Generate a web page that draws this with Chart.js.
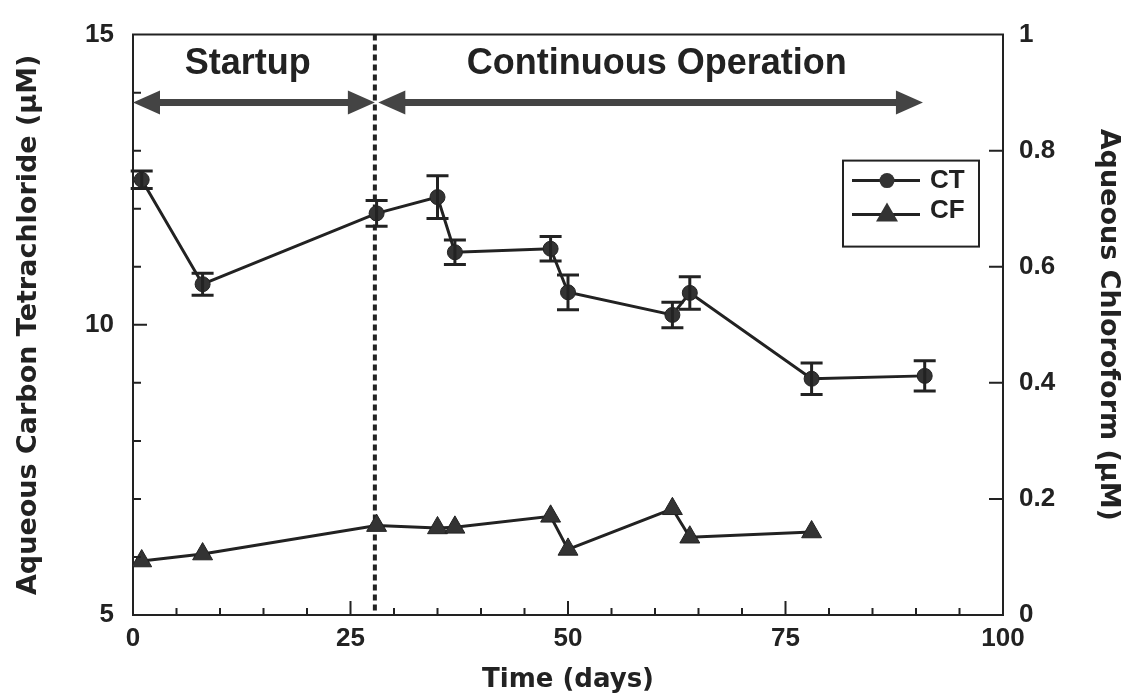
<!DOCTYPE html>
<html>
<head>
<meta charset="utf-8">
<script src="https://cdn.jsdelivr.net/npm/chart.js@4.4.1/dist/chart.umd.min.js"></script>
<style>
  html, body { margin: 0; padding: 0; background: #fff; }
  #chart { display: block; }
</style>
</head>
<body>
<canvas id="chart" width="1134" height="700"></canvas>
<script>
// carbon tetrachloride (left axis, uM) with +/- error
const ctDays = [1, 8, 28, 35, 37, 48, 50, 62, 64, 78, 91];
const ctValues = [12.5, 10.7, 11.92, 12.2, 11.25, 11.31, 10.56, 10.17, 10.55, 9.07, 9.12];
const ctErrors = [0.15, 0.19, 0.22, 0.37, 0.21, 0.21, 0.3, 0.22, 0.28, 0.27, 0.26];

// chloroform (right axis, uM)
const cfDays = [1, 8, 28, 35, 37, 48, 50, 62, 64, 78];
const cfValues = [0.093, 0.105, 0.154, 0.150, 0.151, 0.17, 0.113, 0.183, 0.134, 0.143];

// phases of the run
const phaseNames = ['Startup', 'Continuous Operation'];
const phaseLabelDays = [13.2, 60.2];
const phaseArrowSpans = [[0, 27.8], [28.2, 90.8]];
const phaseBreakDay = 27.8;
const phaseLabelLevel = 14.5;
const phaseArrowLevel = 13.83;

const ink = '#222';
const sans = "'Liberation Sans', Arial, sans-serif";
const wide = "'DejaVu Sans', Verdana, sans-serif";

function arrowHead(ctx, tipX, y, dir) {
  ctx.beginPath();
  ctx.moveTo(tipX, y);
  ctx.lineTo(tipX - dir * 27, y - 12);
  ctx.lineTo(tipX - dir * 27, y + 12);
  ctx.closePath();
  ctx.fill();
}

const errorBars = {
  id: 'errorBars',
  afterDatasetsDraw(chart) {
    const {ctx, scales: {x, y}} = chart;
    ctx.save();
    ctx.strokeStyle = ink;
    ctx.lineWidth = 3;
    ctDays.forEach((d, i) => {
      const px = x.getPixelForValue(d);
      const top = y.getPixelForValue(ctValues[i] + ctErrors[i]);
      const bot = y.getPixelForValue(ctValues[i] - ctErrors[i]);
      ctx.beginPath();
      ctx.moveTo(px, top); ctx.lineTo(px, bot);
      ctx.moveTo(px - 11, top); ctx.lineTo(px + 11, top);
      ctx.moveTo(px - 11, bot); ctx.lineTo(px + 11, bot);
      ctx.stroke();
    });
    ctx.restore();
  }
};

const annotations = {
  id: 'annotations',
  beforeDatasetsDraw(chart) {
    const {ctx, chartArea: a, scales: {x, y}} = chart;
    ctx.save();
    // phase boundary
    ctx.strokeStyle = ink;
    ctx.lineWidth = 4;
    ctx.setLineDash([6, 4]);
    const bx = x.getPixelForValue(phaseBreakDay);
    ctx.beginPath();
    ctx.moveTo(bx, a.top);
    ctx.lineTo(bx, a.bottom);
    ctx.stroke();
    ctx.setLineDash([]);

    // double arrows
    ctx.fillStyle = '#444';
    const ay = y.getPixelForValue(phaseArrowLevel);
    phaseArrowSpans.forEach(([d0, d1]) => {
      const x0 = x.getPixelForValue(d0), x1 = x.getPixelForValue(d1);
      ctx.fillRect(x0 + 20, ay - 3.5, x1 - x0 - 40, 7);
      arrowHead(ctx, x0, ay, -1);
      arrowHead(ctx, x1, ay, 1);
    });

    // phase names
    ctx.fillStyle = ink;
    ctx.font = 'bold 36px ' + sans;
    ctx.textAlign = 'center';
    ctx.textBaseline = 'middle';
    phaseNames.forEach((name, i) => {
      ctx.fillText(name, x.getPixelForValue(phaseLabelDays[i]), y.getPixelForValue(phaseLabelLevel));
    });
    ctx.restore();
  }
};

const frameAndTicks = {
  id: 'frameAndTicks',
  afterDraw(chart) {
    const {ctx, chartArea: a, scales: {x, y, y2}} = chart;
    ctx.save();
    ctx.strokeStyle = ink;
    ctx.lineWidth = 2;
    ctx.beginPath();
    ctx.moveTo(a.left - 1, a.top);
    ctx.lineTo(a.right + 1, a.top);
    for (let v = y.min; v <= y.max; v++) {
      const p = y.getPixelForValue(v);
      ctx.moveTo(a.left, p);
      ctx.lineTo(a.left + (v % 5 === 0 ? 14 : 8), p);
    }
    for (let d = x.min; d <= x.max; d += 5) {
      const p = x.getPixelForValue(d);
      ctx.moveTo(p, a.bottom);
      ctx.lineTo(p, a.bottom - (d % 25 === 0 ? 14 : 7));
    }
    y2.ticks.forEach(t => {
      const p = y2.getPixelForValue(t.value);
      ctx.moveTo(a.right, p);
      ctx.lineTo(a.right - 14, p);
    });
    ctx.stroke();

    // legend box
    const lx = a.right - 160, ly = a.top + 126, lw = 136, lh = 86;
    ctx.fillStyle = '#fff';
    ctx.fillRect(lx, ly, lw, lh);
    ctx.strokeRect(lx, ly, lw, lh);
    const rows = [{label: 'CT', dy: 20}, {label: 'CF', dy: 54}];
    ctx.lineWidth = 3;
    ctx.fillStyle = '#333';
    rows.forEach((r, i) => {
      const ry = ly + r.dy;
      ctx.beginPath();
      ctx.moveTo(lx + 9, ry);
      ctx.lineTo(lx + 77, ry);
      ctx.stroke();
      const mx = lx + 44;
      ctx.beginPath();
      if (i === 0) {
        ctx.arc(mx, ry, 7.5, 0, Math.PI * 2);
      } else {
        ctx.moveTo(mx, ry - 12);
        ctx.lineTo(mx + 11, ry + 7);
        ctx.lineTo(mx - 11, ry + 7);
        ctx.closePath();
      }
      ctx.fill();
    });
    ctx.fillStyle = ink;
    ctx.font = 'bold 26px ' + sans;
    ctx.textAlign = 'left';
    ctx.textBaseline = 'middle';
    ctx.fillText('CT', lx + 87, ly + 20);
    ctx.fillText('CF', lx + 87, ly + 50);
    ctx.restore();
  }
};

const tickFont = {family: sans, size: 26, weight: 'bold'};
const titleFont = {family: wide, size: 27, weight: 'bold'};

new Chart(document.getElementById('chart'), {
  type: 'line',
  data: {
    datasets: [
      {
        label: 'CT',
        data: ctDays.map((d, i) => ({x: d, y: ctValues[i]})),
        yAxisID: 'y',
        borderColor: ink,
        backgroundColor: '#333',
        borderWidth: 3,
        pointStyle: 'circle',
        pointRadius: 7.5,
        pointBorderWidth: 1,
        tension: 0
      },
      {
        label: 'CF',
        data: cfDays.map((d, i) => ({x: d, y: cfValues[i]})),
        yAxisID: 'y2',
        borderColor: ink,
        backgroundColor: '#333',
        borderWidth: 3,
        pointStyle: 'triangle',
        pointRadius: 11.5,
        pointBorderWidth: 1,
        tension: 0
      }
    ]
  },
  options: {
    responsive: false,
    devicePixelRatio: 1,
    animation: false,
    layout: {padding: {top: 32, left: 0, right: 0, bottom: 0}},
    plugins: {legend: {display: false}, tooltip: {enabled: false}},
    scales: {
      x: {
        type: 'linear',
        min: 0,
        max: 100,
        afterFit: s => { s.height = 85; },
        grid: {display: false, drawTicks: false},
        border: {display: true, color: ink, width: 2},
        ticks: {stepSize: 25, color: ink, font: tickFont, padding: 8},
        title: {display: true, text: 'Time (days)', color: ink, font: {family: wide, size: 26, weight: 'bold'}, padding: {top: 0, bottom: 4}}
      },
      y: {
        position: 'left',
        min: 5,
        max: 15,
        afterFit: s => { s.width = 133; },
        grid: {display: false, drawTicks: false},
        border: {display: true, color: ink, width: 2},
        ticks: {stepSize: 5, color: ink, font: tickFont, padding: 19},
        title: {display: true, text: 'Aqueous Carbon Tetrachloride (μM)', color: ink, font: titleFont, padding: {top: 13, bottom: 0}}
      },
      y2: {
        position: 'right',
        min: 0,
        max: 1,
        afterFit: s => { s.width = 131; },
        grid: {display: false, drawTicks: false},
        border: {display: true, color: ink, width: 2},
        ticks: {
          stepSize: 0.2, color: ink, font: tickFont, padding: 16,
          callback: v => String(Math.round(v * 10) / 10)
        },
        title: {display: true, text: 'Aqueous Chloroform (μM)', color: ink, font: titleFont, padding: {top: 10, bottom: 0}}
      }
    }
  },
  plugins: [annotations, errorBars, frameAndTicks]
});
</script>
</body>
</html>
